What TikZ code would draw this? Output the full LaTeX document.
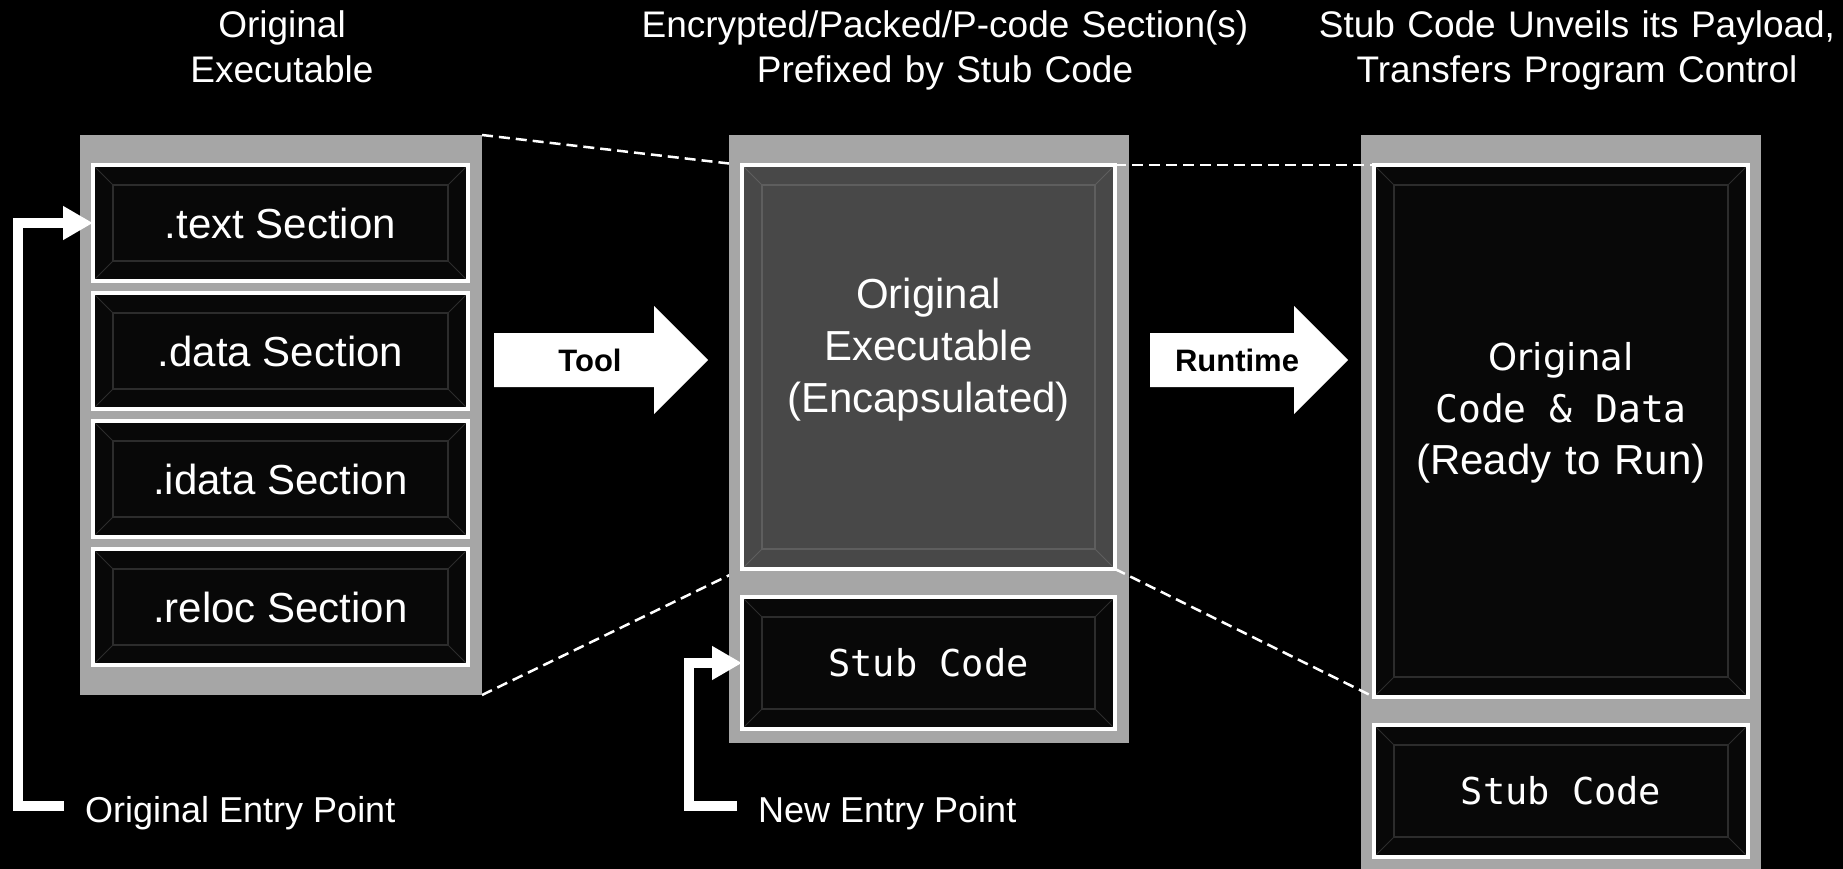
\documentclass[tikz,border=0pt]{standalone}
\usepackage{fontspec}
\setmainfont{Liberation Sans}
\newfontfamily\monof[WordSpace={1,0,0}]{DejaVu Sans Mono}
\newfontfamily\humf{DejaVu Sans}
\usetikzlibrary{arrows.meta,calc}
\pgfdeclarelayer{bg}
\pgfsetlayers{bg,main}
\definecolor{panelgray}{HTML}{A6A6A6}
\definecolor{cellblack}{HTML}{080808}
\definecolor{encgray}{HTML}{484848}
\definecolor{bevdark}{HTML}{2C2C2C}
\definecolor{bevlight}{HTML}{5E5E5E}
\tikzset{
  x=1pt, y=-1pt,
  panel/.style={fill=panelgray, draw=none, anchor=north west, inner sep=0pt, outer sep=0pt},
  cell/.style={draw=white, line width=4pt, fill=cellblack, anchor=north west, inner sep=0pt, outer sep=0pt, text=white,
    path picture={
      \coordinate (pa) at (path picture bounding box.north west);
      \coordinate (pb) at (path picture bounding box.south east);
      \draw[line width=1.5pt, draw=#1] ($(pa)+(20,20)$) rectangle ($(pb)+(-20,-20)$);
      \draw[line width=1pt, draw=#1] (pa) -- ++(20,20) (pa -| pb) -- ++(-20,20) (pa |- pb) -- ++(20,-20) (pb) -- ++(-20,-20);
    }},
  cell/.default=bevdark,
  sectxt/.style={font=\fontsize{42}{50}\selectfont},
  stubtxt/.style={font=\monof\fontsize{37}{44}\selectfont},
  title/.style={anchor=base, text width=800pt, align=center, text=white, inner sep=0pt, font=\fontsize{37}{45}\selectfont},
  dashline/.style={draw=white, line width=2.5pt, dash pattern=on 11pt off 6pt},
  entry/.style={draw=white, line width=10pt, line join=miter, -{Triangle[length=30pt,width=32pt]}},
  entrylbl/.style={anchor=base west, text=white, inner sep=0pt, font=\fontsize{36}{44}\selectfont},
  arrowlbl/.style={text=black, font=\bfseries\fontsize{31}{36}\selectfont},
}
\begin{document}
\begin{tikzpicture}
\begin{pgfonlayer}{bg}
  \fill[black] (0,0) rectangle (1843,869);
\end{pgfonlayer}
\useasboundingbox (0,0) rectangle (1843,869);

% titles
\node[title] (t1) at (282,37.5) {Original\\Executable};
\node[title] (t2) at (945,37.5) {Encrypted/Packed/P-code Section(s)\\Prefixed by Stub Code};
\node[title] (t3) at (1577,37.5) {Stub Code Unveils its Payload,\\Transfers Program Control};

% left panel
\node[panel, minimum width=402pt, minimum height=560pt] (lp) at (80,135) {};
\node[cell, sectxt, minimum width=375pt, minimum height=116pt] (s1) at (93,165) {.text Section};
\node[cell, sectxt, minimum width=375pt, minimum height=116pt] (s2) at (93,293) {.data Section};
\node[cell, sectxt, minimum width=375pt, minimum height=116pt] (s3) at (93,421) {.idata Section};
\node[cell, sectxt, minimum width=375pt, minimum height=116pt] (s4) at (93,549) {.reloc Section};

% middle panel
\node[panel, minimum width=400pt, minimum height=608pt] (mp) at (729,135) {};
\node[cell=bevlight, fill=encgray, minimum width=373pt, minimum height=404pt] (enc) at (742,165) {};
\node[anchor=base, text width=373pt, align=center, text=white, inner sep=0pt, font=\fontsize{42}{52}\selectfont] (enclbl) at (enc.north |- 0,308) {Original\\Executable\\(Encapsulated)};
\node[cell, stubtxt, minimum width=373pt, minimum height=132pt] (stub1) at (742,597) {Stub\hspace{0.6em}Code};

% right panel
\node[panel, minimum width=400pt, minimum height=734pt] (rp) at (1361,135) {};
\node[cell, minimum width=374pt, minimum height=532pt] (big) at (1374,165) {};
\node[anchor=base, text width=374pt, align=center, text=white, inner sep=0pt, font=\fontsize{42}{52}\selectfont] (biglbl) at (big.north |- 0,370) {{\humf\fontsize{37}{52}\selectfont Original}\\{\monof\fontsize{38}{52}\selectfont Code\hspace{0.6em}\&\hspace{0.6em}Data}\\(Ready to Run)};
\node[cell, stubtxt, minimum width=374pt, minimum height=132pt] (stub2) at (1374,725) {Stub\hspace{0.6em}Code};

% dashed projection lines
\begin{pgfonlayer}{bg}
  \draw[dashline] (lp.north east) -- (enc.north west);
  \draw[dashline] (lp.south east) -- (enc.south west);
\end{pgfonlayer}
\draw[dashline] (enc.north east) -- (big.north west);
\draw[dashline] (enc.south east) -- (big.south west);

% block arrows
\fill[white] (494,333) -- (654,333) -- (654,306) -- (708,360) -- (654,414) -- (654,387) -- (494,387) -- cycle;
\node[arrowlbl] (tool) at (590,360) {Tool};
\fill[white] (1150,333) -- (1294,333) -- (1294,306) -- (1348,360) -- (1294,414) -- (1294,387) -- (1150,387) -- cycle;
\node[arrowlbl] (runtime) at (1237,360) {Runtime};

% entry points
\node[entrylbl] (oel) at (85,822) {Original Entry Point};
\coordinate (oe) at (64,806);
\draw[entry] (oe) -- ++(-46,0) |- (s1.west);
\node[entrylbl] (nel) at (758,822) {New Entry Point};
\coordinate (ne) at (737,806);
\draw[entry] (ne) -- ++(-48,0) |- (stub1.west);
\end{tikzpicture}
\end{document}
